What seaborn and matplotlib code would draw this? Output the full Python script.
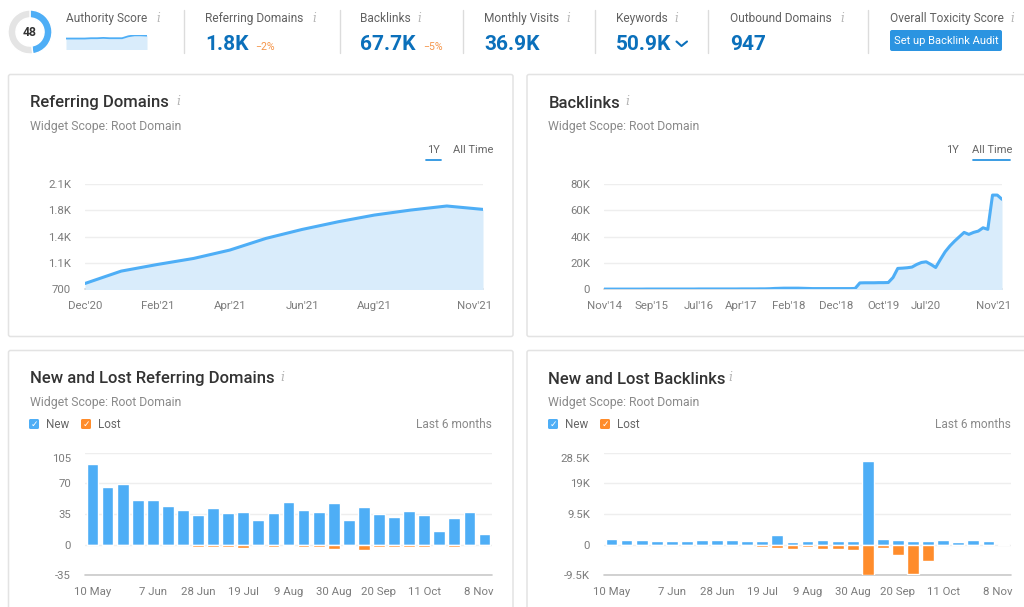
import matplotlib
matplotlib.use('Agg')
import matplotlib.pyplot as plt
from matplotlib.patches import FancyBboxPatch
from matplotlib.transforms import ScaledTranslation
import pandas as pd
import seaborn as sns

W, H = 1024, 607

BLUE = '#4eaef6'
ORANGE = '#ff8c2b'
FILL = '#d9ecfb'
GRID = '#eeeeee'
TICK = '#7c7c7c'

# headline numbers
kpi_labels = ['Authority Score', 'Referring Domains', 'Backlinks', 'Monthly Visits',
              'Keywords', 'Outbound Domains', 'Overall Toxicity Score']
kpi_values = ['', '1.8K', '67.7K', '36.9K', '50.9K', '947', '']
kpi_deltas = ['', '−2%', '−5%', '', '', '', '']
authority_score = 48
authority_trend = [34, 34, 34, 34, 35, 35, 36, 35, 35, 35, 41, 44, 44, 43]

# referring domains, last year
rd_months = ["Dec'20", "Jan'21", "Feb'21", "Mar'21", "Apr'21", "May'21",
             "Jun'21", "Jul'21", "Aug'21", "Sep'21", "Oct'21", "Nov'21"]
rd_values = [780, 944, 1032, 1112, 1223, 1378, 1497, 1599, 1688, 1754, 1808, 1763]
rd_yticks = [700, 1050, 1400, 1750, 2100]
rd_ylabels = ['700', '1.1K', '1.4K', '1.8K', '2.1K']
rd_xticks = [0, 2, 4, 6, 8, 11]

# backlinks, all time, one value per month from Nov'14
bl_values = [300, 300, 300, 300, 300, 300, 300, 300, 300, 350,
             350, 350, 350, 350, 350, 350, 350, 350, 350, 350,
             400, 400, 400, 400, 400, 400, 400, 400, 400, 450,
             450, 450, 450, 500, 500, 600, 800, 900, 1000, 1000,
             1000, 1000, 900, 800, 700, 700, 700, 700, 700, 700,
             700, 700, 700, 800, 5000, 5100, 5100, 5100, 5200, 5200,
             5300, 9100, 16000, 16200, 16500, 17000, 19000, 20500, 21000, 19000,
             16700, 22800, 28600, 33000, 36700, 40000, 43300, 41800, 43300, 44300,
             46800, 45600, 71600, 71600, 68400]
bl_yticks = [0, 20000, 40000, 60000, 80000]
bl_ylabels = ['0', '20K', '40K', '60K', '80K']
bl_xticks = [0, 10, 20, 29, 39, 49, 59, 68, 84]
bl_xlabels = ["Nov'14", "Sep'15", "Jul'16", "Apr'17", "Feb'18", "Dec'18", "Oct'19", "Jul'20", "Nov'21"]

# new and lost, weekly
weeks = ['10 May', '17 May', '24 May', '31 May', '7 Jun', '14 Jun', '21 Jun', '28 Jun', '5 Jul',
         '12 Jul', '19 Jul', '26 Jul', '2 Aug', '9 Aug', '16 Aug', '23 Aug', '30 Aug', '6 Sep',
         '13 Sep', '20 Sep', '27 Sep', '4 Oct', '11 Oct', '18 Oct', '25 Oct', '1 Nov', '8 Nov']
week_ticks = [0, 4, 7, 10, 13, 16, 19, 22, 26]
nl_rd_new = [92, 66, 69, 51, 51, 44, 40, 34, 42, 36, 37, 28, 36, 49, 40, 37, 47, 28, 43, 35,
             32, 38, 34, 16, 31, 37, 12]
nl_rd_lost = [0, -1.5, 0, -1.5, -1.5, 0, 0, -3, -2.5, -2.5, -4, 0, -2.5, -1.5, -3, -3, -5, -1.5, -6, -3,
              -2.5, -3, -2.5, -1.5, -2.5, 0, 0]
nl_rd_yticks = [-35, 0, 35, 70, 105]
nl_rd_ylabels = ['-35', '0', '35', '70', '105']
nl_bl_new = [1860, 1550, 1450, 1030, 1030, 1240, 1450, 1340, 1450, 1140, 1240, 2890, 930, 1240,
             1450, 1030, 1140, 25800, 1650, 1340, 1030, 1240, 1340, 930, 1340, 1240, 300]
nl_bl_lost = [-250, -250, -250, -150, -150, -150, -150, -150, -150, -400, -620, -930, -1240, -830,
              -1450, -1450, -1750, -9500, -930, -3300, -9090, -5060, -250, -150, -250, -150, 0]
nl_bl_yticks = [-9500, 0, 9500, 19000, 28500]
nl_bl_ylabels = ['-9.5K', '0', '9.5K', '19K', '28.5K']

sns.set_theme(style='white')
plt.rcParams['font.family'] = ['Roboto', 'DejaVu Sans']

fig = plt.figure(figsize=(W / 100, H / 100), dpi=100, facecolor='white')

# full-figure layer in pixel coordinates for the page furniture
page = fig.add_axes([0, 0, 1, 1], zorder=0)
page.set_xlim(0, W)
page.set_ylim(H, 0)
page.axis('off')


def px_axes(x0, y0, x1, y1):
    ax = fig.add_axes([x0 / W, 1 - y1 / H, (x1 - x0) / W, (y1 - y0) / H], zorder=2)
    ax.patch.set_alpha(0)
    sns.despine(ax=ax, left=True, bottom=True, top=True, right=True)
    return ax


def label(x, y, s, size=8.6, color='#6f6f6f', ha='left', **kw):
    # baseline placement so that descenders do not move the text
    page.text(x, y + 0.36 * size * 100 / 72, s, fontsize=size, color=color, ha=ha, va='baseline', **kw)


def info(x, y, size=9):
    page.text(x, y, 'i', fontsize=size, color='#b4b4b4', ha='center', va='center',
              family='DejaVu Serif', style='italic')


def panel(x0, y0, x1, y1):
    page.add_patch(FancyBboxPatch((x0, y0), x1 - x0, y1 - y0, boxstyle='round,pad=0,rounding_size=2',
                                  fc='white', ec='#e3e3e3', lw=1.1))


def shift_label(tl, dx=0, dy=0):
    tl.set_transform(tl.get_transform() + ScaledTranslation(dx / 100, dy / 100, fig.dpi_scale_trans))


def style_axis(ax, yticks, ylabels, xticks, xlabels, shift_last, xpad):
    ax.set_yticks(yticks, ylabels)
    ax.set_xticks(xticks, xlabels)
    ax.set_ylim(yticks[0], yticks[-1])
    ax.set_xlabel('')
    ax.set_ylabel('')
    ax.tick_params(axis='y', length=0, pad=10, labelsize=8.2, labelcolor=TICK)
    ax.tick_params(axis='x', length=0, pad=xpad, labelsize=8.2, labelcolor=TICK)
    for tl in ax.get_xticklabels():
        tl.set_va('baseline')
    ax.grid(axis='y', color=GRID, lw=1)
    ax.grid(axis='x', visible=False)
    ax.set_axisbelow(True)
    ax.axhline(yticks[0], color='#c9c9c9', lw=1.2, zorder=1, clip_on=False)
    shift_label(ax.get_xticklabels()[-1], dx=shift_last)


def area_chart(box, x, y, yticks, ylabels, xticks, xlabels):
    ax = px_axes(*box)
    df = pd.DataFrame({'x': x, 'y': y})
    ax.fill_between(df['x'], df['y'], yticks[0], color=FILL, lw=0, zorder=1.5)
    sns.lineplot(data=df, x='x', y='y', ax=ax, color=BLUE, lw=2.2, zorder=3)
    ax.set_xlim(x[0], x[-1])
    style_axis(ax, yticks, ylabels, xticks, xlabels, -8, 14)
    return ax


def bar_chart(box, new, lost, yticks, ylabels):
    ax = px_axes(*box)
    df = pd.DataFrame({'week': weeks, 'new': new, 'lost': lost})
    sns.barplot(data=df, x='week', y='new', ax=ax, color=BLUE, saturation=1, width=0.78, zorder=3)
    sns.barplot(data=df, x='week', y='lost', ax=ax, color=ORANGE, saturation=1, width=0.78, zorder=3)
    ax.set_xlim(-0.5, 26.5)
    style_axis(ax, yticks, ylabels, week_ticks, [weeks[i] for i in week_ticks], -6, 14.5)
    shift_label(ax.get_yticklabels()[-1], dy=-5)
    return ax


def widget_head(x, title, title_y, info_x):
    label(x, title_y, title, size=12, color='#333333', weight='medium')
    info(info_x, title_y)
    label(x, title_y + 24, 'Widget Scope: Root Domain', size=8.8, color='#8a8a8a')


def checkbox(x, y, color, text):
    page.add_patch(FancyBboxPatch((x, y - 5), 10, 10, boxstyle='round,pad=0,rounding_size=1.5',
                                  fc=color, ec='none'))
    page.text(x + 5, y, '✓', fontsize=6.5, color='white', ha='center', va='center',
              family='DejaVu Sans', weight='bold')
    label(x + 17, y, text, size=8.4, color='#666666')


# panels
panel(8.5, 74.5, 513, 336.5)
panel(527, 74.5, 1040, 336.5)
panel(8.5, 350.5, 513, 640)
panel(527, 350.5, 1040, 640)

# KPI strip
kpi_x = [66, 205, 360, 484, 616, 730, 890]
info_x = [158, 314, 419, 568, 676, 842, 1012]
for x, ix, name, val in zip(kpi_x, info_x, kpi_labels, kpi_values):
    label(x, 18, name, size=8.6, color='#616161')
    info(ix, 18, size=8.5)
    if val:
        label(x, 42, val, size=15, color='#0b70bb', weight='bold')
label(255, 46, kpi_deltas[1], size=7.6, color='#f5964b')
label(423, 46, kpi_deltas[2], size=7.6, color='#f5964b')
page.plot([676.5, 681.5, 687], [41.5, 46, 41.5], color='#0b70bb', lw=1.5)
for sx in [183.5, 339.5, 463, 595, 708, 868]:
    page.plot([sx, sx], [10, 53], color='#dcdcdc', lw=1)

# toxicity button
page.add_patch(FancyBboxPatch((890, 30), 112, 21, boxstyle='round,pad=0,rounding_size=2',
                              fc='#2b94e1', ec='none'))
page.text(946, 40.5, 'Set up Backlink Audit', fontsize=8, color='white', ha='center', va='center')

# authority donut
donut = px_axes(8, 10, 52, 54)
donut.pie([authority_score, 100 - authority_score], colors=[BLUE, '#e4e4e4'], startangle=90,
          counterclock=False, radius=1, wedgeprops={'width': 0.36})
donut.set_xlim(-1, 1)
donut.set_ylim(-1, 1)
page.text(30, 32.5, str(authority_score), fontsize=8.8, color='#333333', ha='center', va='center',
          weight='bold', zorder=5)

# authority sparkline
spark = px_axes(66, 35, 147, 49.5)
spark_df = pd.DataFrame({'x': range(len(authority_trend)), 'y': authority_trend})
spark.fill_between(spark_df['x'], spark_df['y'], 0, color=FILL, lw=0)
sns.lineplot(data=spark_df, x='x', y='y', ax=spark, color=BLUE, lw=1.3)
spark.set_xlim(0, len(authority_trend) - 1)
spark.set_ylim(0, 45)
spark.axis('off')

# top widgets
widget_head(30, 'Referring Domains', 101.5, 178)
widget_head(548.5, 'Backlinks', 101.5, 627)
label(433, 149, '1Y', size=8, ha='center', color='#666666')
label(473, 149, 'All Time', size=8, ha='center', color='#666666')
page.plot([426, 441], [160, 160], color='#2b94e1', lw=1.3)
label(952, 149, '1Y', size=8, ha='center', color='#666666')
label(992, 149, 'All Time', size=8, ha='center', color='#666666')
page.plot([973, 1010], [160, 160], color='#2b94e1', lw=1.3)

area_chart((85, 184, 483, 289.5), list(range(len(rd_values))), rd_values, rd_yticks, rd_ylabels,
           rd_xticks, [rd_months[i] for i in rd_xticks])
area_chart((604, 184, 1002, 289.5), list(range(len(bl_values))), bl_values, bl_yticks, bl_ylabels,
           bl_xticks, bl_xlabels)

# bottom widgets
widget_head(30, 'New and Lost Referring Domains', 377.5, 282)
widget_head(548.5, 'New and Lost Backlinks', 377.5, 730)
for dx in [0, 519]:
    checkbox(29 + dx, 424, BLUE, 'New')
    checkbox(81 + dx, 424, ORANGE, 'Lost')
    label(492 + dx, 424, 'Last 6 months', size=8.6, ha='right', color='#8a8a8a')

bar_chart((85, 452.7, 492, 575.3), nl_rd_new, nl_rd_lost, nl_rd_yticks, nl_rd_ylabels)
bar_chart((604, 452.7, 1011, 575.3), nl_bl_new, nl_bl_lost, nl_bl_yticks, nl_bl_ylabels)

fig.savefig('out.png', dpi=100)
